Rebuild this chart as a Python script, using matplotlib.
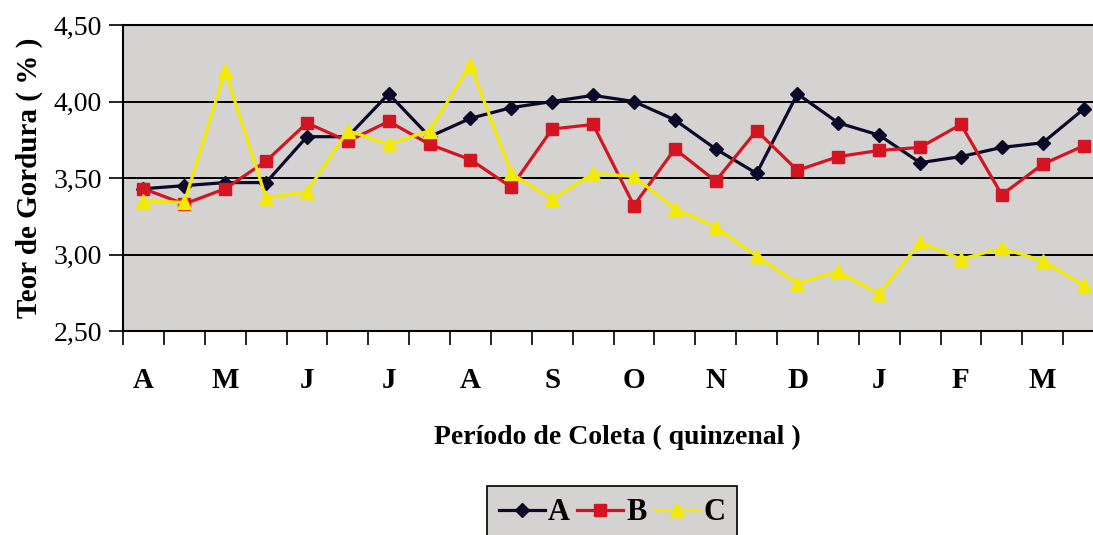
import numpy as np
import matplotlib
matplotlib.use('Agg')
import matplotlib.pyplot as plt

# Dados (teor de gordura, %), coleta quinzenal de abril a março
meses = ['A', 'M', 'J', 'J', 'A', 'S', 'O', 'N', 'D', 'J', 'F', 'M']
serie_a = [3.43, 3.45, 3.47, 3.47, 3.77, 3.77, 4.05, 3.77, 3.89, 3.96, 4.00, 4.04,
           4.00, 3.88, 3.69, 3.53, 4.05, 3.86, 3.78, 3.60, 3.64, 3.70, 3.73, 3.95]
serie_b = [3.43, 3.33, 3.43, 3.61, 3.86, 3.74, 3.87, 3.72, 3.62, 3.44, 3.82, 3.85,
           3.32, 3.69, 3.48, 3.81, 3.55, 3.64, 3.68, 3.70, 3.85, 3.39, 3.59, 3.71]
serie_c = [3.35, 3.34, 4.20, 3.37, 3.41, 3.81, 3.72, 3.81, 4.24, 3.53, 3.36, 3.53,
           3.51, 3.30, 3.18, 2.99, 2.81, 2.89, 2.74, 3.08, 2.97, 3.04, 2.96, 2.80]

plt.rcParams['font.family'] = ['Liberation Serif', 'DejaVu Serif']

x = np.arange(len(serie_a))
fundo = '#d5d2d2'

fig = plt.figure(figsize=(10.93, 5.35), dpi=100)
# the right edge of the plot is cut off in the original, so the axes run past the figure
ax = fig.add_axes([123 / 1093, 1 - 331 / 535, (1104 - 123) / 1093, (331 - 25) / 535])
ax.set_facecolor(fundo)

for yv in [3.0, 3.5, 4.0]:
    ax.axhline(yv, color='black', lw=1.4, zorder=1)

ax.plot(x, serie_a, color='#0a0a28', lw=2.3, marker='D', markersize=7, label='A', zorder=3)
ax.plot(x, serie_b, color='#d41420', lw=2.3, marker='s', markersize=8.5, label='B', zorder=3)
ax.plot(x, serie_c, color='#f2ea00', lw=2.3, marker='^', markersize=9.5, label='C', zorder=3)

ax.set_xlim(-0.5, 23.5)
ax.set_ylim(2.5, 4.5)

ax.set_yticks([2.5, 3.0, 3.5, 4.0, 4.5])
ax.set_yticklabels(['2,50', '3,00', '3,50', '4,00', '4,50'], fontsize=20)
ax.tick_params(axis='y', direction='out', length=10, width=1.2, pad=5)

ax.set_xticks(np.arange(0, 24, 2))
ax.set_xticklabels(meses, fontsize=21, fontweight='bold')
ax.set_xticks(np.arange(-0.5, 24, 1), minor=True)
ax.tick_params(axis='x', which='major', length=0, pad=26)
ax.tick_params(axis='x', which='minor', direction='out', length=10, width=1.2)

for s in ['left', 'bottom', 'top']:
    ax.spines[s].set_linewidth(1.5)
ax.spines['right'].set_visible(False)

ax.set_ylabel('Teor de Gordura ( % )', fontsize=21, fontweight='bold', labelpad=8)
fig.text(617 / 1093, 1 - 437 / 535, 'Período de Coleta ( quinzenal )', fontsize=20,
         fontweight='bold', ha='center', va='center')

leg = fig.legend(loc='upper center', bbox_to_anchor=(612 / 1093, 1 - 486 / 535),
                 ncol=3, prop={'weight': 'bold', 'size': 22}, borderaxespad=0,
                 frameon=True, fancybox=False, edgecolor='black',
                 facecolor=fundo, handlelength=1.5, handletextpad=0.1,
                 columnspacing=0.25, borderpad=0.4)
leg.get_frame().set_linewidth(1.2)
leg.get_frame().set_alpha(1)

fig.savefig('out.png', dpi=100)
